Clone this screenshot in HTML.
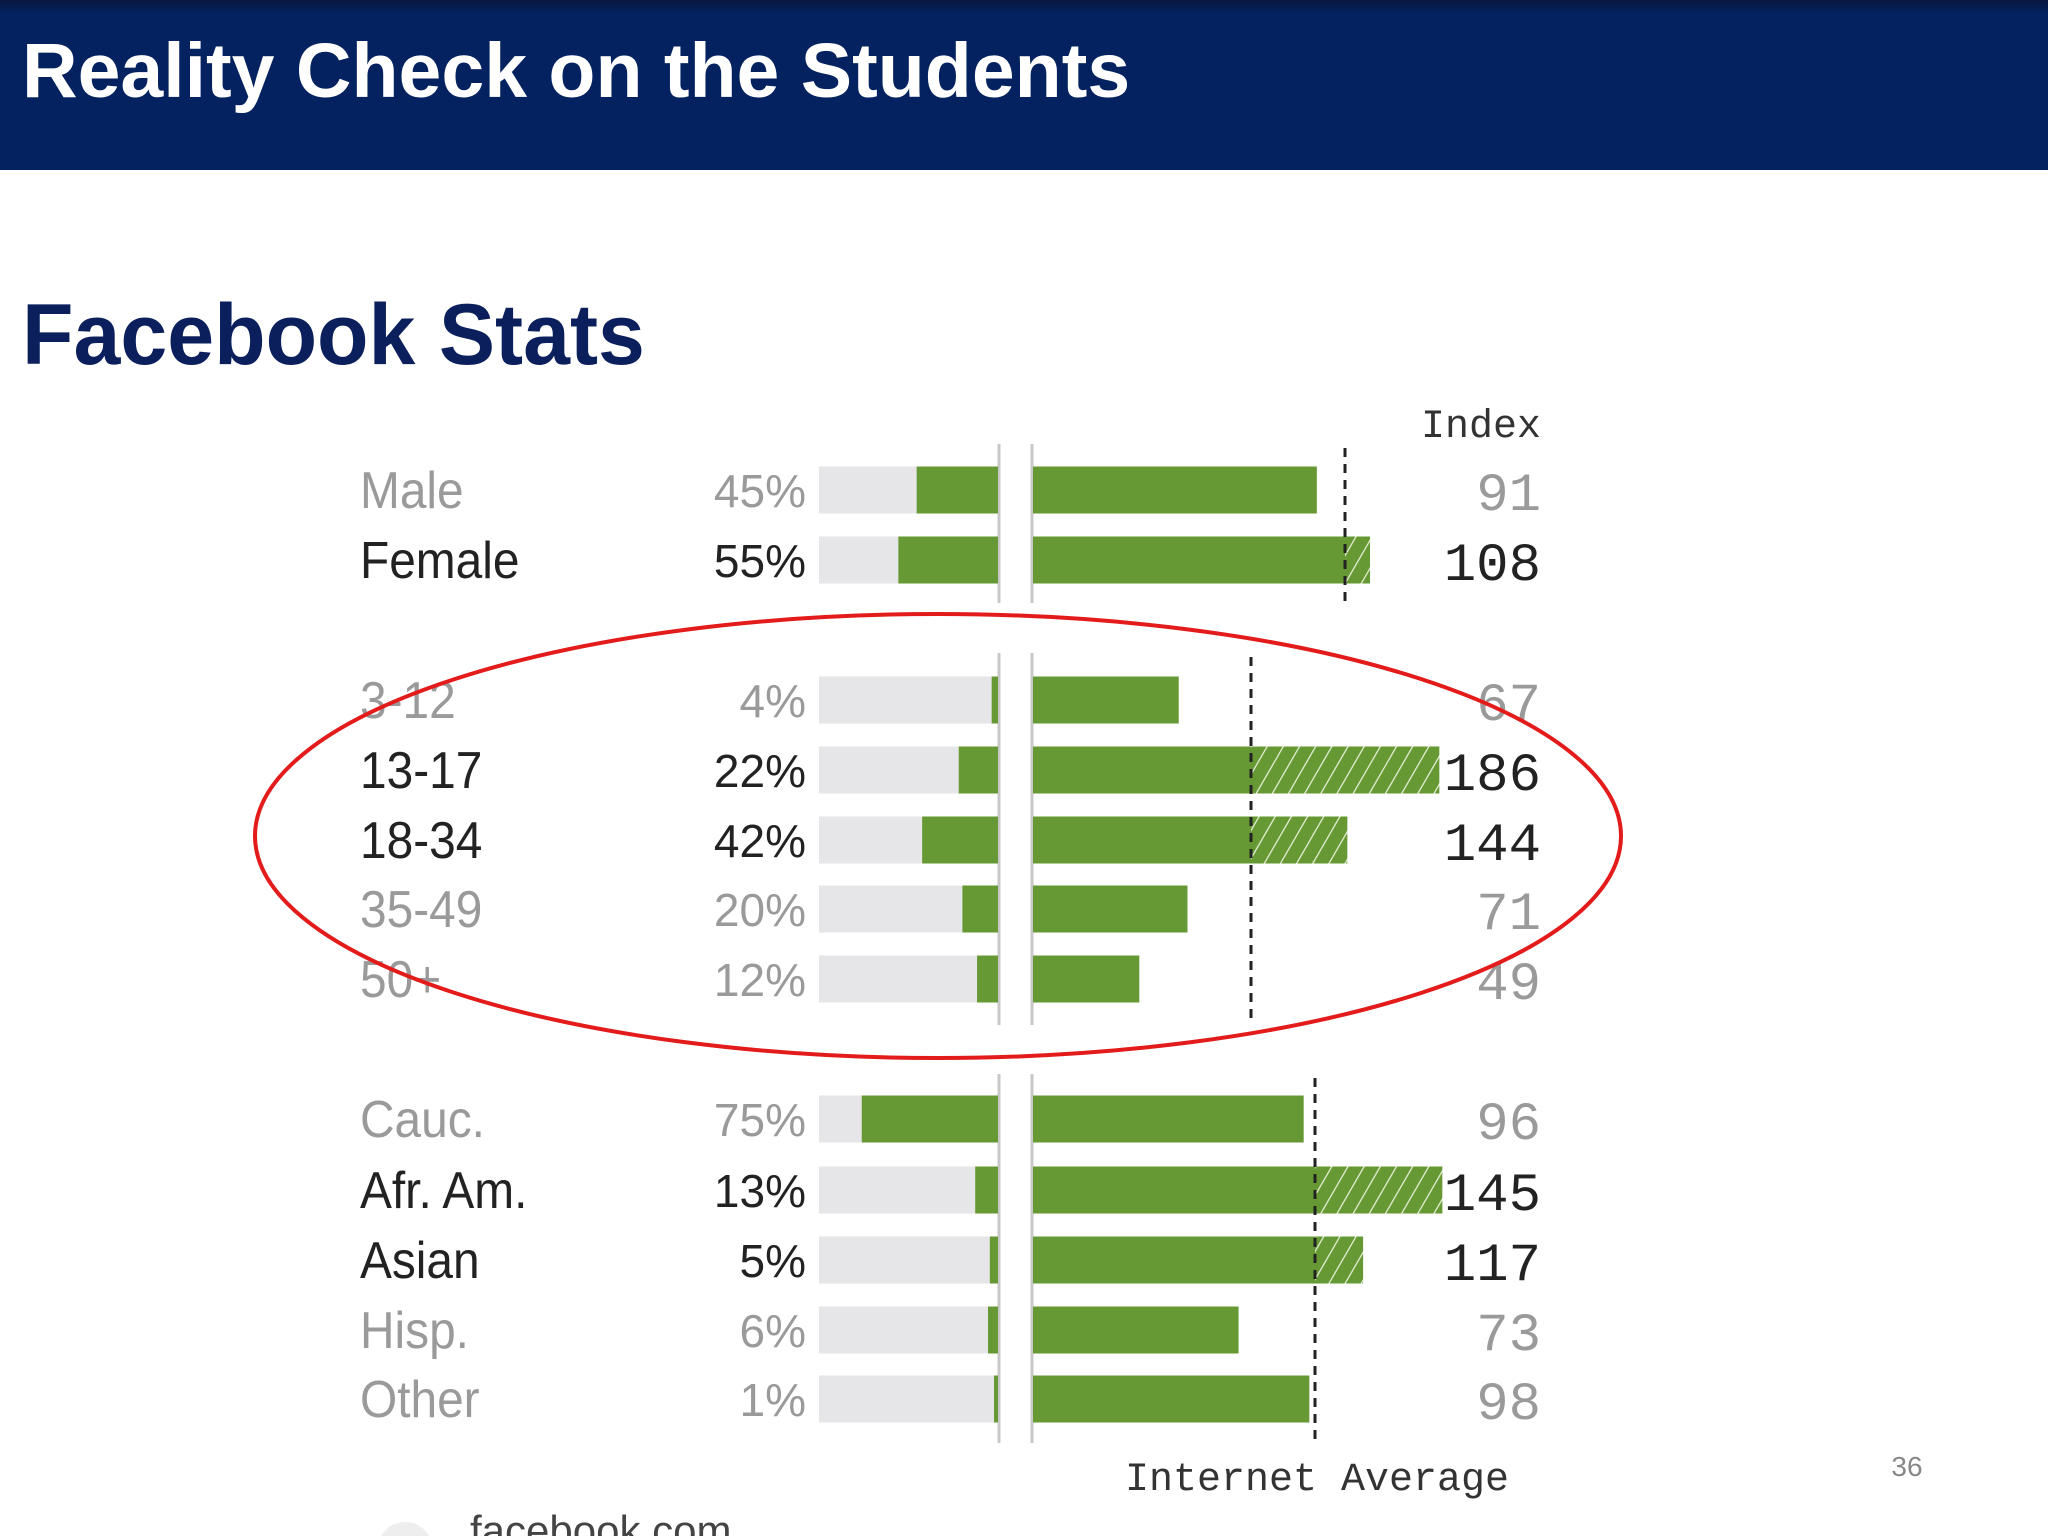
<!DOCTYPE html>
<html><head><meta charset="utf-8"><style>
html,body{margin:0;padding:0;background:#fff;}
body{width:2048px;height:1536px;position:relative;overflow:hidden;font-family:"Liberation Sans",sans-serif;}
#hdr{position:absolute;left:0;top:0;width:2048px;height:170px;background:linear-gradient(#0a1740 0px,#03225f 14px,#03225f 100%);}
#hdr h1{margin:0;position:absolute;left:22px;top:27px;color:#fff;font-size:77px;font-weight:bold;letter-spacing:0px;}
#sub{position:absolute;left:22px;top:286px;margin:0;color:#0b1f5c;font-size:86px;font-weight:bold;transform:scaleX(0.98);transform-origin:left;}
svg{position:absolute;left:0;top:0;}
</style></head><body>
<div id="hdr"><h1>Reality Check on the Students</h1></div>
<h2 id="sub">Facebook Stats</h2>
<svg id="chart" width="2048" height="1536">
<defs><pattern id="hatch" width="14" height="14" patternUnits="userSpaceOnUse" patternTransform="rotate(30)"><rect width="14" height="14" fill="#669933"/><line x1="0" y1="0" x2="0" y2="14" stroke="#e8f0d8" stroke-width="2.5"/></pattern></defs>
</svg>
<script>
const categories=["Male","Female","3-12","13-17","18-34","35-49","50+","Cauc.","Afr. Am.","Asian","Hisp.","Other"];
const shares=[45,55,4,22,42,20,12,75,13,5,6,1];
const indexValues=[91,108,67,186,144,71,49,96,145,117,73,98];
const groups=[0,0,1,1,1,1,1,2,2,2,2,2];
const highlight=[0,1,0,1,1,0,0,0,1,1,0,0];
const NS="http://www.w3.org/2000/svg";
const svg=document.getElementById('chart');
function mk(t,a,p){const e=document.createElementNS(NS,t);for(const k in a)e.setAttribute(k,a[k]);(p||svg).appendChild(e);return e;}
const groupScale=[3.13,2.19,2.83];
const rowY=[490,560,700,770,840,909,979,1119,1190,1260,1330,1399];
const groupTop=[444,653,1074],groupBot=[603,1025,1443];
const leftEdge=999,rightStart=1032,trackX=819,pxPerPct=1.83,barH=47;
function xRight(g,v){return rightStart+v*groupScale[g];}
function xLeft(p){return Math.min(leftEdge-5,leftEdge-p*pxPerPct);}
for(let g=0;g<3;g++){
  const l1=mk('line',{x1:999,x2:999,y1:groupTop[g],y2:groupBot[g],stroke:'#c8c8c8','stroke-width':3});
  
  
  const l2=mk('line',{x1:1032,x2:1032,y1:groupTop[g],y2:groupBot[g],stroke:'#c8c8c8','stroke-width':3});
  
  
}
categories.forEach((c,i)=>{
  const g=groups[i],y=rowY[i],dark=highlight[i]?'#222':'#9a9a9a';
  const t=mk('rect',{x:trackX,y:y-barH/2,width:leftEdge-1-trackX,height:barH,fill:'#e6e6e8'});
  
  
  const xl=xLeft(shares[i]);
  const b=mk('rect',{x:xl,y:y-barH/2,width:leftEdge-1-xl,height:barH,fill:'#669933'});
  
  
  const v=indexValues[i],x100=xRight(g,100),xv=xRight(g,v);
  const r=mk('rect',{x:rightStart+1,y:y-barH/2,width:Math.min(xv,x100)-rightStart-1,height:barH,fill:'#669933'});
  
  
  if(v>100){
    const h=mk('rect',{x:x100,y:y-barH/2,width:xv-x100,height:barH,fill:'url(#hatch)'});
    
    
  }
  const lab=mk('text',{x:360,y:y+18,'font-size':52,fill:dark,'font-family':'Liberation Sans, sans-serif',transform:'translate(360 0) scale(0.92 1) translate(-360 0)'});
  lab.textContent=c;
  
  
  const pl=mk('text',{x:806,y:y+17,'font-size':46,fill:dark,'text-anchor':'end','font-family':'Liberation Sans, sans-serif'});
  pl.textContent=shares[i]+'%';
  
  
  const il=mk('text',{x:1541,y:y+20,'font-size':54,fill:dark,'text-anchor':'end','font-family':'Liberation Mono, monospace'});
  il.textContent=v;
  
  
});
for(let g=0;g<3;g++){
  const x=xRight(g,100);
  const d=mk('line',{x1:x,x2:x,y1:groupTop[g]+4,y2:groupBot[g],stroke:'#222','stroke-width':3,'stroke-dasharray':'9,7'});
  
  
}
const e=mk('ellipse',{cx:938,cy:836,rx:683,ry:222,fill:'none',stroke:'#e31b1b','stroke-width':4});


const ix=mk('text',{x:1541,y:437,'font-size':40,fill:'#333','text-anchor':'end','font-family':'Liberation Mono, monospace'});
ix.textContent='Index';


const ia=mk('text',{x:1317,y:1490,'font-size':40,fill:'#333','text-anchor':'middle','font-family':'Liberation Mono, monospace'});
ia.textContent='Internet Average';


const pn=mk('text',{x:1907,y:1476,'font-size':28,fill:'#888','text-anchor':'middle'});
pn.textContent='36';


const ci=mk('circle',{cx:405,cy:1550,r:28,fill:'#eeeeef'});


const fb=mk('text',{x:470,y:1545,'font-size':42,fill:'#444'});
fb.textContent='facebook.com';


</script>
</body></html>
